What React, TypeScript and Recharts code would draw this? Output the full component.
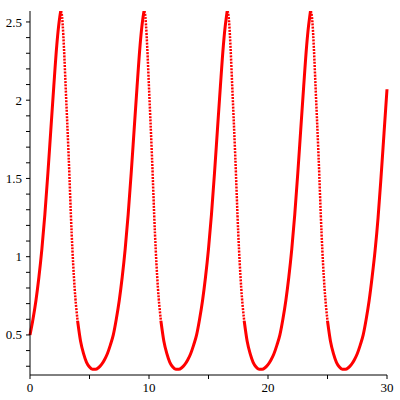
import React from 'react';
import { LineChart, Line, XAxis, YAxis } from 'recharts';

// x positions (two rows per oscillation)
const xValues = [
    0, 0.25, 0.5, 0.75, 1, 1.25, 1.5, 1.75, 2, 2.25, 2.4, 2.5, 2.58, 2.65, 2.75, 2.85,
    3, 3.25, 3.5, 3.75, 4, 4.25, 4.5, 4.75, 5, 5.25, 5.5, 5.75, 6, 6.25, 6.5, 6.75,
    7, 7.25, 7.5, 7.75, 8, 8.25, 8.5, 8.75, 9, 9.25, 9.4, 9.5, 9.58, 9.65, 9.75, 9.85,
    10, 10.25, 10.5, 10.75, 11, 11.25, 11.5, 11.75, 12, 12.25, 12.5, 12.75, 13, 13.25, 13.5, 13.75,
    14, 14.25, 14.5, 14.75, 15, 15.25, 15.5, 15.75, 16, 16.25, 16.4, 16.5, 16.57, 16.64, 16.75, 16.85,
    17, 17.25, 17.5, 17.75, 18, 18.25, 18.5, 18.75, 19, 19.25, 19.5, 19.75, 20, 20.25, 20.5, 20.75,
    21, 21.25, 21.5, 21.75, 22, 22.25, 22.5, 22.75, 23, 23.25, 23.4, 23.5, 23.57, 23.64, 23.75, 23.85,
    24, 24.25, 24.5, 24.75, 25, 25.25, 25.5, 25.75, 26, 26.25, 26.5, 26.75, 27, 27.25, 27.5, 27.75,
    28, 28.25, 28.5, 28.75, 29, 29.25, 29.5, 29.75, 30,
];

const yValues = [
    0.5, 0.6, 0.72, 0.87, 1.05, 1.27, 1.53, 1.81, 2.09, 2.35, 2.47, 2.53, 2.57, 2.56, 2.48, 2.34,
    2.08, 1.64, 1.15, 0.8, 0.59, 0.46, 0.38, 0.325, 0.295, 0.28, 0.28, 0.29, 0.31, 0.34, 0.38, 0.435,
    0.5, 0.6, 0.72, 0.87, 1.05, 1.27, 1.53, 1.81, 2.09, 2.35, 2.47, 2.53, 2.57, 2.56, 2.48, 2.34,
    2.08, 1.64, 1.15, 0.8, 0.59, 0.46, 0.38, 0.325, 0.295, 0.28, 0.28, 0.29, 0.31, 0.34, 0.38, 0.435,
    0.5, 0.6, 0.72, 0.87, 1.05, 1.27, 1.53, 1.81, 2.09, 2.35, 2.47, 2.53, 2.57, 2.56, 2.48, 2.34,
    2.08, 1.64, 1.15, 0.8, 0.59, 0.46, 0.38, 0.325, 0.295, 0.28, 0.28, 0.29, 0.31, 0.34, 0.38, 0.435,
    0.5, 0.6, 0.72, 0.87, 1.05, 1.27, 1.53, 1.81, 2.09, 2.35, 2.47, 2.53, 2.57, 2.56, 2.48, 2.34,
    2.08, 1.64, 1.15, 0.8, 0.59, 0.46, 0.38, 0.325, 0.295, 0.28, 0.28, 0.29, 0.31, 0.34, 0.38, 0.435,
    0.5, 0.6, 0.72, 0.87, 1.04, 1.25, 1.51, 1.79, 2.07,
];

const xTicks = [0, 5, 10, 15, 20, 25, 30];
const xLabels = [0, 10, 20, 30];
const yTicks = [0.3, 0.4, 0.5, 0.6, 0.7, 0.8, 0.9, 1, 1.1, 1.2, 1.3, 1.4, 1.5, 1.6, 1.7, 1.8, 1.9, 2, 2.1, 2.2, 2.3, 2.4, 2.5];
const yLabels = [0.5, 1, 1.5, 2, 2.5];

// the steep drop after each peak is plotted with sparse points, so it looks dotted
const isFall = yValues.map((y, i) => i > 0 && y < yValues[i - 1] && y > 0.7);

const data = xValues.map((x, i) => ({
    x,
    rise: isFall[i] ? null : yValues[i],
    fall: isFall[i] || isFall[i + 1] || isFall[i - 1] ? yValues[i] : null,
}));

const labelStyle = { fontFamily: '"Liberation Serif", "Times New Roman", serif', fontSize: 13 };

// eslint-disable-next-line @typescript-eslint/no-explicit-any
function XTick(props: any) {
    const { x, y, payload } = props;
    if (!xLabels.includes(payload.value)) return null;
    return (
        <text x={x} y={y} dy="0.71em" textAnchor="middle" fill="#000" style={labelStyle}>
            {payload.value}
        </text>
    );
}

// eslint-disable-next-line @typescript-eslint/no-explicit-any
function YTick(props: any) {
    const { x, y, payload } = props;
    if (!yLabels.some(v => Math.abs(v - payload.value) < 1e-6)) return null;
    return (
        <text x={x} y={y} dy="0.35em" textAnchor="end" fill="#000" style={labelStyle}>
            {payload.value}
        </text>
    );
}

export default function App() {
    return (
        <div style={{ position: 'absolute', left: 0, top: 0, width: 400, height: 400, background: '#fff' }}>
            <LineChart width={400} height={400} data={data} margin={{ top: 11, right: 13, bottom: 0, left: 0 }}>
                <XAxis
                    dataKey="x"
                    type="number"
                    domain={[0, 30]}
                    ticks={xTicks}
                    height={25}
                    stroke="#000"
                    tickSize={4}
                    tickMargin={4}
                    tick={<XTick />}
                    interval={0}
                />
                <YAxis
                    type="number"
                    domain={[0.244, 2.57]}
                    allowDataOverflow
                    ticks={yTicks}
                    width={30}
                    stroke="#000"
                    tickSize={4}
                    tickMargin={4}
                    tick={<YTick />}
                    interval={0}
                />
                <Line
                    type="monotone"
                    dataKey="rise"
                    stroke="#ff0000"
                    strokeWidth={3}
                    dot={false}
                    isAnimationActive={false}
                />
                <Line
                    type="monotone"
                    dataKey="fall"
                    stroke="#ff0000"
                    strokeWidth={2.5}
                    strokeDasharray="2 1.2"
                    dot={false}
                    isAnimationActive={false}
                />
            </LineChart>
        </div>
    );
}
